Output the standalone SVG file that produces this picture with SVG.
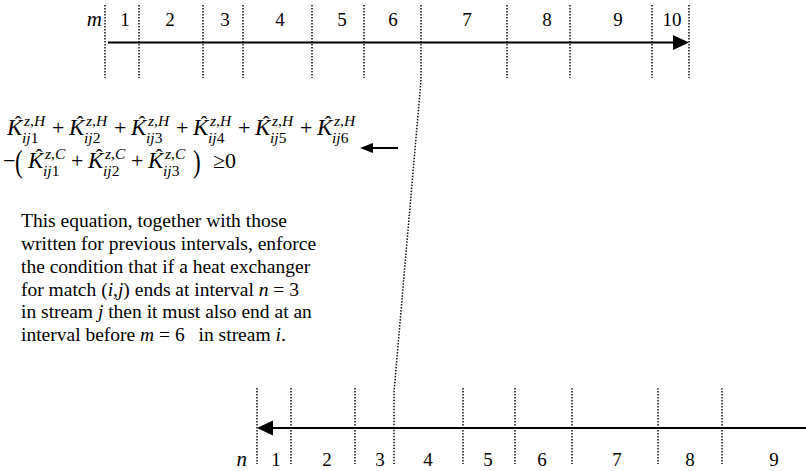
<svg xmlns="http://www.w3.org/2000/svg" width="806" height="471" viewBox="0 0 806 471">
<style>
text{font-family:"Liberation Serif","Times New Roman",serif;fill:#000}
.num{font-size:19px;text-anchor:middle}
.var{font-size:21px;font-style:italic}
.K{font-size:23px;font-style:italic}
.hat{font-size:20px;text-anchor:middle}
.sub,.sup{font-size:15.5px}
.it{font-style:italic}
.op{font-size:22px}
.para{font-size:19.5px}
.dot{stroke:#111;stroke-width:1.5;stroke-dasharray:1.5 1.5;fill:none}
.axis{stroke:#000;stroke-width:2;fill:none}
</style>
<defs>
<g id="KH">
<text class="K" x="0" y="0">K</text>
<text class="hat" x="11" y="-4">ˆ</text>
<text class="sup" x="17" y="-9"><tspan class="it">z</tspan>,<tspan class="it">H</tspan></text>
</g>
<g id="KC">
<text class="K" x="0" y="0">K</text>
<text class="hat" x="11" y="-4">ˆ</text>
<text class="sup" x="17" y="-9"><tspan class="it">z</tspan>,<tspan class="it">C</tspan></text>
</g>
</defs>
<g id="connectors">
<g id="top-axis">
<line class="axis" x1="108" y1="42.5" x2="676" y2="42.5"/>
<polygon points="673,35 689,42.5 673,50" fill="#000"/>
</g>
<g id="bottom-axis">
<line class="axis" x1="270" y1="428" x2="806" y2="428"/>
<polygon points="273,420.5 257,428 273,435.5" fill="#000"/>
</g>
<g id="top-dividers">
<line class="dot" x1="105" y1="5" x2="105" y2="78"/>
<line class="dot" x1="139" y1="5" x2="139" y2="78"/>
<line class="dot" x1="203" y1="5" x2="203" y2="78"/>
<line class="dot" x1="243" y1="5" x2="243" y2="78"/>
<line class="dot" x1="312" y1="5" x2="312" y2="78"/>
<line class="dot" x1="364" y1="5" x2="364" y2="78"/>
<line class="dot" x1="507" y1="5" x2="507" y2="78"/>
<line class="dot" x1="570" y1="5" x2="570" y2="78"/>
<line class="dot" x1="652" y1="5" x2="652" y2="78"/>
<line class="dot" x1="689" y1="5" x2="689" y2="78"/>
</g>
<polyline id="link" class="dot" points="421,5 421,80 394,392 394,464"/>
<g id="bottom-dividers">
<line class="dot" x1="257" y1="388" x2="257" y2="464"/>
<line class="dot" x1="291" y1="388" x2="291" y2="464"/>
<line class="dot" x1="355" y1="388" x2="355" y2="464"/>
<line class="dot" x1="463" y1="388" x2="463" y2="464"/>
<line class="dot" x1="515" y1="388" x2="515" y2="464"/>
<line class="dot" x1="572" y1="388" x2="572" y2="464"/>
<line class="dot" x1="658" y1="388" x2="658" y2="464"/>
<line class="dot" x1="722" y1="388" x2="722" y2="464"/>
</g>
<g id="eq-arrow">
<line class="axis" x1="398" y1="148" x2="368" y2="148"/>
<polygon points="373,143 360,148 373,153" fill="#000"/>
</g>
</g>
<g id="top-labels">
<text class="var" x="102" y="26" text-anchor="end">m</text>
<text class="num" x="125" y="26">1</text>
<text class="num" x="170" y="26">2</text>
<text class="num" x="225" y="26">3</text>
<text class="num" x="280" y="26">4</text>
<text class="num" x="342" y="26">5</text>
<text class="num" x="393" y="26">6</text>
<text class="num" x="467" y="26">7</text>
<text class="num" x="547" y="26">8</text>
<text class="num" x="618" y="26">9</text>
<text class="num" x="672" y="26">10</text>
</g>
<g id="bottom-labels">
<text class="var" x="247" y="466" text-anchor="end">n</text>
<text class="num" x="276" y="466">1</text>
<text class="num" x="327" y="466">2</text>
<text class="num" x="380" y="466">3</text>
<text class="num" x="428" y="466">4</text>
<text class="num" x="488" y="466">5</text>
<text class="num" x="542" y="466">6</text>
<text class="num" x="617" y="466">7</text>
<text class="num" x="690" y="466">8</text>
<text class="num" x="774" y="466">9</text>
</g>
<g id="equation">
<g transform="translate(7,135)"><use href="#KH"/><text class="sub" x="15" y="8"><tspan class="it">ij</tspan>1</text></g>
<text class="op" x="52" y="135">+</text>
<g transform="translate(69,135)"><use href="#KH"/><text class="sub" x="15" y="8"><tspan class="it">ij</tspan>2</text></g>
<text class="op" x="114" y="135">+</text>
<g transform="translate(131,135)"><use href="#KH"/><text class="sub" x="15" y="8"><tspan class="it">ij</tspan>3</text></g>
<text class="op" x="176" y="135">+</text>
<g transform="translate(193,135)"><use href="#KH"/><text class="sub" x="15" y="8"><tspan class="it">ij</tspan>4</text></g>
<text class="op" x="238" y="135">+</text>
<g transform="translate(255,135)"><use href="#KH"/><text class="sub" x="15" y="8"><tspan class="it">ij</tspan>5</text></g>
<text class="op" x="300" y="135">+</text>
<g transform="translate(317,135)"><use href="#KH"/><text class="sub" x="15" y="8"><tspan class="it">ij</tspan>6</text></g>
<text class="op" x="3" y="168">−</text>
<text x="15" y="0" font-size="23" transform="translate(0,172) scale(1,1.35)">(</text>
<g transform="translate(28,168)"><use href="#KC"/><text class="sub" x="15" y="8"><tspan class="it">ij</tspan>1</text></g>
<text class="op" x="71" y="168">+</text>
<g transform="translate(88,168)"><use href="#KC"/><text class="sub" x="15" y="8"><tspan class="it">ij</tspan>2</text></g>
<text class="op" x="131" y="168">+</text>
<g transform="translate(148,168)"><use href="#KC"/><text class="sub" x="15" y="8"><tspan class="it">ij</tspan>3</text></g>
<text x="193" y="0" font-size="23" transform="translate(0,172) scale(1,1.35)">)</text>
<text class="op" x="213" y="168">≥0</text>
</g>
<g id="caption">
<text class="para" x="21" y="227">This equation, together with those</text>
<text class="para" x="21" y="250">written for previous intervals, enforce</text>
<text class="para" x="21" y="272.5">the condition that if a heat exchanger</text>
<text class="para" x="21" y="295.5">for match (<tspan class="it">i</tspan>,<tspan class="it">j</tspan>) ends at interval <tspan class="it">n</tspan> = 3</text>
<text class="para" x="21" y="318">in stream <tspan class="it">j</tspan> then it must also end at an</text>
<text class="para" x="21" y="341">interval before <tspan class="it">m</tspan> = 6 <tspan dx="9">in stream </tspan><tspan class="it">i</tspan>.</text>
</g>
</svg>
